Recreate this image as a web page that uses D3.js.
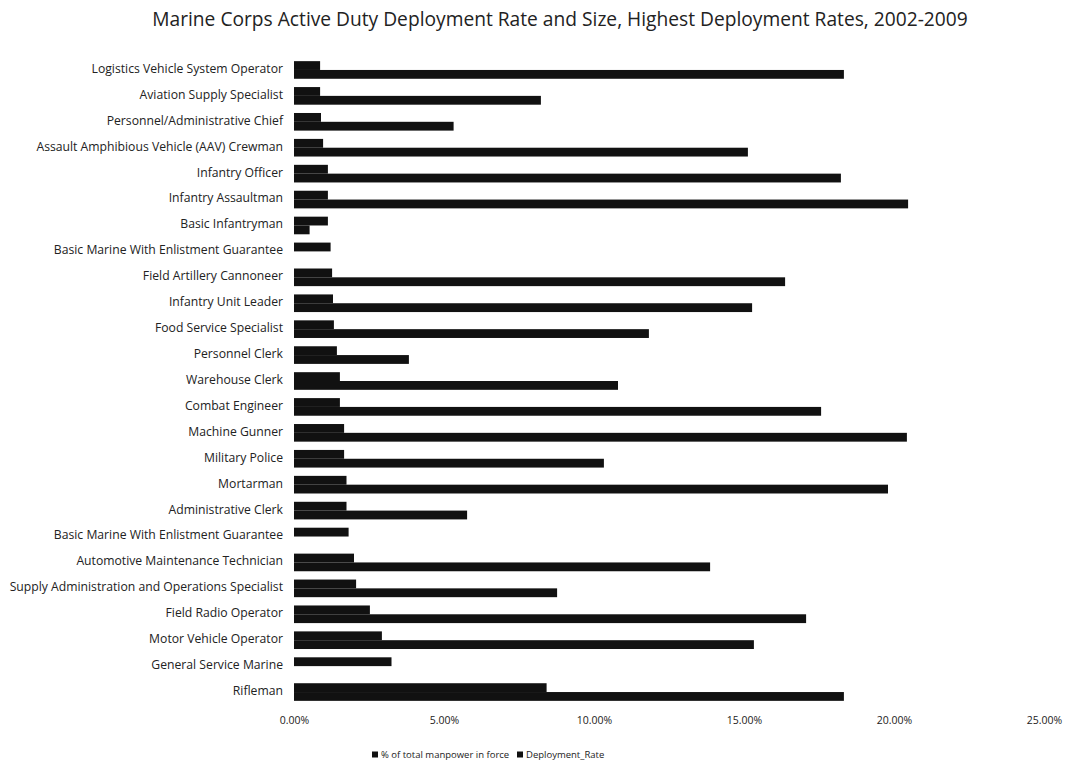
<!DOCTYPE html>
<html>
<head>
<meta charset="utf-8">
<script src="https://cdn.jsdelivr.net/npm/d3@7"></script>
<style>
  body { margin: 0; background: #fff; }
  svg text { font-family: "Open Sans", "Noto Sans", sans-serif; fill: #222; }
</style>
</head>
<body>
<svg id="chart" width="1072" height="771"></svg>
<script>
// occupations, top to bottom as shown
var jobs = [
    "Logistics Vehicle System Operator",
    "Aviation Supply Specialist",
    "Personnel/Administrative Chief",
    "Assault Amphibious Vehicle (AAV) Crewman",
    "Infantry Officer",
    "Infantry Assaultman",
    "Basic Infantryman",
    "Basic Marine With Enlistment Guarantee",
    "Field Artillery Cannoneer",
    "Infantry Unit Leader",
    "Food Service Specialist",
    "Personnel Clerk",
    "Warehouse Clerk",
    "Combat Engineer",
    "Machine Gunner",
    "Military Police",
    "Mortarman",
    "Administrative Clerk",
    "Basic Marine With Enlistment Guarantee ",
    "Automotive Maintenance Technician",
    "Supply Administration and Operations Specialist",
    "Field Radio Operator",
    "Motor Vehicle Operator",
    "General Service Marine",
    "Rifleman"
];

// % of total manpower in force
var manpower = [0.87, 0.87, 0.90, 0.97, 1.13, 1.13, 1.13, 1.22, 1.27, 1.30,
                1.33, 1.43, 1.53, 1.53, 1.67, 1.67, 1.75, 1.75, 1.82, 2.00,
                2.07, 2.53, 2.93, 3.25, 8.42];

// Deployment_Rate
var deployment = [18.33, 8.23, 5.32, 15.13, 18.23, 20.47, 0.52, 0, 16.37, 15.27,
                  11.83, 3.83, 10.80, 17.57, 20.43, 10.33, 19.80, 5.77, 0, 13.87,
                  8.77, 17.07, 15.33, 0, 18.33];

var seriesNames = ["% of total manpower in force", "Deployment_Rate"];
var xTicks = [0, 5, 10, 15, 20, 25];

var title = "Marine Corps Active Duty Deployment Rate and Size, Highest Deployment Rates, 2002-2009";

var svg = d3.select("#chart");

var rows = jobs.map(function(j, i) {
    return {job: j, values: [manpower[i], deployment[i]]};
});

var x = d3.scaleLinear()
    .domain([0, 25])
    .range([294, 1044]);

var y = d3.scaleBand()
    .domain(jobs)
    .range([57, 705])
    .paddingInner(0.32)
    .paddingOuter(0.16);

var ySub = d3.scaleBand()
    .domain([0, 1])
    .range([0, y.bandwidth()]);

svg.append("text")
    .attr("x", 560)
    .attr("y", 26)
    .attr("text-anchor", "middle")
    .style("font-size", "19.2px")
    .text(title);

// category labels
svg.append("g")
    .attr("transform", "translate(289,-1)")
    .call(d3.axisLeft(y).tickSize(0).tickPadding(6).tickFormat(function(d) { return d.trim(); }))
    .call(function(g) { g.select(".domain").remove(); })
    .selectAll("text")
    .style("font-size", "12.2px")
    .style("font-family", "\"Open Sans\", sans-serif")
    .attr("fill", "#222");

// x axis labels
svg.append("g")
    .attr("transform", "translate(0,714)")
    .call(d3.axisBottom(x).tickValues(xTicks).tickSize(0)
        .tickFormat(function(d) { return d.toFixed(2) + "%"; }))
    .call(function(g) { g.select(".domain").remove(); })
    .selectAll("text")
    .style("font-size", "10.5px")
    .style("font-family", "\"Open Sans\", sans-serif")
    .attr("fill", "#333");

// bars
var groups = svg.append("g")
    .selectAll("g")
    .data(rows)
    .enter().append("g")
    .attr("transform", function(d) { return "translate(0," + y(d.job) + ")"; });

groups.selectAll("rect")
    .data(function(d) { return d.values; })
    .enter().append("rect")
    .attr("x", x(0))
    .attr("y", function(d, i) { return ySub(i); })
    .attr("width", function(d) { return x(d) - x(0); })
    .attr("height", ySub.bandwidth())
    .attr("fill", "#111");

// legend
var legend = svg.append("g")
    .attr("transform", "translate(372,758)");

var legX = [0, 145];
seriesNames.forEach(function(name, i) {
    legend.append("rect")
        .attr("x", legX[i])
        .attr("y", -6.5)
        .attr("width", 6)
        .attr("height", 6)
        .attr("fill", "#111");
    legend.append("text")
        .attr("x", legX[i] + 9)
        .attr("y", 0)
        .style("font-size", "9.5px")
        .text(name);
});
</script>
</body>
</html>
